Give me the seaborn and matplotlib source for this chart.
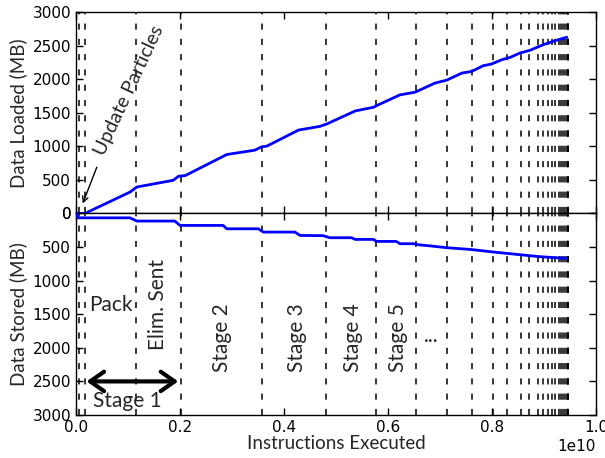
import matplotlib
matplotlib.use("Agg")
import matplotlib.pyplot as plt
import numpy as np
import pandas as pd
import seaborn as sns

# x values in units of 1e10 instructions
load_x = [0.0, 0.017, 0.104, 0.117, 0.187, 0.197, 0.21, 0.29, 0.344, 0.357, 0.367,
          0.428, 0.469, 0.482, 0.537, 0.572, 0.581, 0.623, 0.652, 0.662, 0.69, 0.713,
          0.742, 0.761, 0.783, 0.799, 0.819, 0.835, 0.854, 0.873, 0.899, 0.924, 0.944]
load_mb = [0, 0, 320, 395, 495, 555, 565, 880, 945, 995, 1005,
           1245, 1300, 1335, 1530, 1585, 1620, 1770, 1810, 1845, 1945, 1990,
           2095, 2120, 2205, 2230, 2295, 2330, 2395, 2435, 2520, 2585, 2630]

store_x = [0.0, 0.004, 0.104, 0.117, 0.19, 0.2, 0.283, 0.29, 0.351, 0.36, 0.421, 0.431,
           0.475, 0.488, 0.53, 0.537, 0.572, 0.578, 0.616, 0.623, 0.649, 0.658, 0.684,
           0.713, 0.758, 0.803, 0.854, 0.892, 0.931, 0.944]
store_mb = [0, 65, 65, 113, 113, 178, 178, 228, 228, 277, 277, 327,
            330, 361, 361, 386, 386, 416, 416, 450, 450, 465, 485,
            510, 535, 574, 614, 643, 663, 668]

stage_bounds = [0.005, 0.018, 0.115, 0.202, 0.357, 0.480, 0.577, 0.654, 0.714, 0.762,
                0.801, 0.829, 0.855, 0.872, 0.888, 0.899, 0.908, 0.915, 0.922, 0.928,
                0.933, 0.937, 0.941, 0.944, 0.9455, 0.9465, 0.947]

stage_labels = ["Stage 2", "Stage 3", "Stage 4", "Stage 5"]
stage_label_x = [0.280, 0.425, 0.533, 0.619]

SCALE = 1e10

sns.set_style("ticks")
plt.rcParams["font.family"] = ["DejaVu Sans"]
ann_font = "Lato"

df_load = pd.DataFrame({"x": np.array(load_x) * SCALE, "mb": load_mb})
df_store = pd.DataFrame({"x": np.array(store_x) * SCALE, "mb": store_mb})

fig = plt.figure(figsize=(6.05, 4.58), dpi=100)
ax_top = fig.add_axes([0.1256, 0.5339, 0.8595, 0.4389])
ax_bot = fig.add_axes([0.1256, 0.0939, 0.8595, 0.4400], sharex=ax_top)

for ax in (ax_top, ax_bot):
    for xb in stage_bounds:
        ax.axvline(xb * SCALE, color="black", lw=1.1, dashes=(4, 6), zorder=1)

sns.lineplot(data=df_load, x="x", y="mb", ax=ax_top, color="blue", lw=2, legend=False, zorder=3)
sns.lineplot(data=df_store, x="x", y="mb", ax=ax_bot, color="blue", lw=2, legend=False, zorder=3)

ax_top.set_xlim(0, 1.0 * SCALE)
ax_top.set_ylim(0, 3000)
ax_bot.set_ylim(3000, 0)
ax_top.set_yticks(np.arange(0, 3001, 500))
ax_bot.set_yticks(np.arange(0, 3001, 500))
ax_bot.set_xticks(np.arange(0, 1.01, 0.2) * SCALE)

for ax in (ax_top, ax_bot):
    ax.tick_params(direction="in", top=True, right=True, length=5, width=1,
                   labelsize=11, colors="black")
    for s in ax.spines.values():
        s.set_color("black")
        s.set_linewidth(1)
ax_top.tick_params(labelbottom=False)
ax_top.set_xlabel("")
ax_top.set_ylabel("Data Loaded (MB)", fontsize=13.5, family=ann_font, labelpad=4)
ax_bot.set_ylabel("Data Stored (MB)", fontsize=13.5, family=ann_font, labelpad=4)
ax_bot.set_xlabel("Instructions Executed", fontsize=13.5, family=ann_font, labelpad=0)
ax_bot.xaxis.get_offset_text().set_fontsize(11)

# annotations
ax_top.annotate("", xy=(0.011 * SCALE, 110), xytext=(0.042 * SCALE, 730),
                arrowprops=dict(arrowstyle="->", color="black", lw=1))
ax_top.text(0.103 * SCALE, 1830, "Update Particles", rotation=65, ha="center", va="center",
            fontsize=14, family=ann_font)

ax_bot.text(0.067 * SCALE, 1366, "Pack", ha="center", va="center", fontsize=15, family=ann_font)
ax_bot.text(0.158 * SCALE, 1351, "Elim. Sent", rotation=90, ha="center", va="center",
            fontsize=15, family=ann_font)
for lab, lx in zip(stage_labels, stage_label_x):
    ax_bot.text(lx * SCALE, 1846, lab, rotation=90, ha="center", va="center",
                fontsize=15, family=ann_font)
ax_bot.text(0.684 * SCALE, 1820, "...", ha="center", va="center", fontsize=15, family=ann_font)

ax_bot.annotate("", xy=(0.015 * SCALE, 2500), xytext=(0.202 * SCALE, 2500),
                arrowprops=dict(arrowstyle="<->, head_length=0.5, head_width=0.35",
                                color="black", lw=3, mutation_scale=20))
ax_bot.text(0.099 * SCALE, 2790, "Stage 1", ha="center", va="center", fontsize=15, family=ann_font)

fig.savefig("out.png", dpi=100)
